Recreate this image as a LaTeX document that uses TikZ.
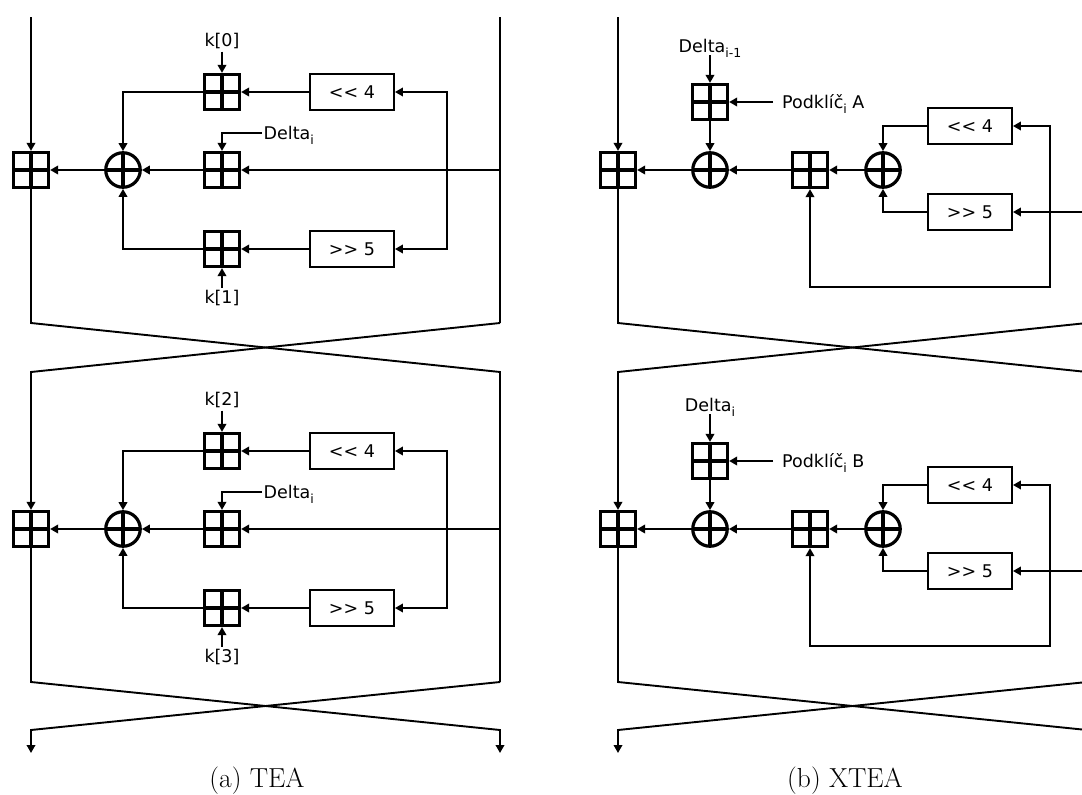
\documentclass[tikz,border=0pt]{standalone}
\usepackage{fontspec}
\newfontfamily\labelfont{DejaVu Sans}
\usetikzlibrary{arrows.meta}

% lowered, smaller index that does not change the height of a label
\newcommand\idx[1]{\smash{\raisebox{-4.5pt}{\fontsize{12.5}{12.5}\selectfont #1}}}

\tikzset{
  tip/.tip={Triangle[length=8pt,width=8.5pt]},
  wire/.style={line width=1.9pt},
  flow/.style={wire,-tip},
  crossmark/.style={path picture={
      \draw[line width=3.2pt]
        (path picture bounding box.north) -- (path picture bounding box.south)
        (path picture bounding box.west) -- (path picture bounding box.east);}},
  adder/.style={draw,line width=3.2pt,minimum size=35pt,inner sep=0pt,crossmark},
  xorop/.style={circle,draw,line width=3.2pt,minimum size=34.5pt,inner sep=0pt,crossmark},
  shiftop/.style={draw,line width=1.9pt,minimum width=84pt,minimum height=36pt,
    font=\labelfont\fontsize{17.5}{17.5}\selectfont},
  lbl/.style={font=\labelfont\fontsize{17.5}{17.5}\selectfont,inner sep=2.5pt},
  caption/.style={font=\fontsize{27.5}{27.5}\selectfont,inner sep=0pt},
}

% one TEA round: adders, shifts, xor and the key inputs
\newcommand\tearound[2]{%
  \node[adder] (la) at (31,170) {};
  \node[xorop] (xo) at (123,170) {};
  \node[adder] (ma) at (222,170) {};
  \node[adder] (ta) at (222,92) {};
  \node[adder] (ba) at (222,249) {};
  \node[shiftop] (sl) at (352,92) {<\kern0pt< 4};
  \node[shiftop] (sr) at (352,249) {>\kern0pt> 5};
  \node[lbl] (kt) at (222,41) {#1};
  \node[lbl] (kb) at (222,298) {#2};
  \node[lbl,anchor=west,inner xsep=1.5pt] (dl) at (262,133) {Delta\idx{i}};
  \coordinate (rt) at (500,170);
  \coordinate (ft) at (447,92);
  \coordinate (fb) at (447,249);
  \coordinate (tl) at (31,13);
  \coordinate (tr) at (500,13);
  \coordinate (bl) at (31,323);
  \coordinate (br) at (500,323);
  \draw[flow] (kt) -- (ta);
  \draw[flow] (kb) -- (ba);
  \draw[flow] (dl.west) -| (ma.north);
  \draw[flow] (rt) -- (ma);
  \draw[wire,tip-tip] (sl.east) -- (ft) -- (fb) -- (sr.east);
  \draw[flow] (sl) -- (ta);
  \draw[flow] (sr) -- (ba);
  \draw[flow] (ta.west) -| (xo.north);
  \draw[flow] (ba.west) -| (xo.south);
  \draw[flow] (ma) -- (xo);
  \draw[flow] (xo) -- (la);
}

% one XTEA round
\newcommand\xtearound[2]{%
  \node[adder] (la) at (618,170) {};
  \node[xorop] (xa) at (710,170) {};
  \node[adder] (ta) at (710,102) {};
  \node[adder] (ma) at (810,170) {};
  \node[xorop] (xb) at (883,170) {};
  \node[shiftop] (sl) at (970,126) {<\kern0pt< 4};
  \node[shiftop] (sr) at (970,212) {>\kern0pt> 5};
  \node[lbl] (dl) at (710,46) {#1};
  \node[lbl,anchor=west,inner xsep=0pt] (pk) at (782,102) {#2};
  \coordinate (pe) at (773,102);
  \coordinate (rt) at (1087,212);
  \coordinate (ft) at (1050,126);
  \coordinate (fb) at (1050,287);
  \coordinate (tl) at (618,13);
  \coordinate (tr) at (1087,13);
  \coordinate (bl) at (618,323);
  \coordinate (br) at (1087,323);
  \draw[flow] (dl) -- (ta);
  \draw[flow] (pe) -- (ta);
  \draw[flow] (ta) -- (xa);
  \draw[flow] (xa) -- (la);
  \draw[flow] (ma) -- (xa);
  \draw[flow] (xb) -- (ma);
  \draw[flow] (sl.west) -| (xb.north);
  \draw[flow] (sr.west) -| (xb.south);
  \draw[flow] (rt) -- (sr);
  \draw[wire,tip-tip] (sl.east) -- (ft) -- (fb) -| (ma.south);
}

\begin{document}
\begin{tikzpicture}[x=1pt,y=-1pt]
\useasboundingbox (0,0) rectangle (1082,795);
\clip (0,0) rectangle (1082,795);

% ---------------- TEA ----------------
\begin{scope}[name prefix=A1-]
  \tearound{k[0]}{k[1]}
\end{scope}
\begin{scope}[yshift=-359pt,name prefix=A2-]
  \tearound{k[2]}{k[3]}
\end{scope}
\coordinate (A-in-l) at (31,17);
\coordinate (A-in-r) at (500,17);
\coordinate (A-x-l) at (31,730);
\coordinate (A-x-r) at (500,730);
\coordinate (A-out-l) at (31,753);
\coordinate (A-out-r) at (500,753);
\draw[flow] (A-in-l) -- (A1-la);
\draw[wire] (A-in-r) -- (A1-br);
\draw[wire] (A1-la) -- (A1-bl) -- (A2-tr) -- (A2-br);
\draw[flow] (A1-br) -- (A2-tl) -- (A2-la);
\draw[flow] (A2-la) -- (A2-bl) -- (A-x-r) -- (A-out-r);
\draw[flow] (A2-br) -- (A-x-l) -- (A-out-l);
\node[caption] (capA) at (257,781) {(a) TEA};

% ---------------- XTEA ----------------
\begin{scope}[name prefix=B1-]
  \xtearound{Delta\idx{i-1}}{Podklíč\idx{i} A}
\end{scope}
\begin{scope}[yshift=-359pt,name prefix=B2-]
  \xtearound{Delta\idx{i}}{Podklíč\idx{i} B}
\end{scope}
\coordinate (B-in-l) at (618,17);
\coordinate (B-in-r) at (1087,17);
\coordinate (B-x-l) at (618,730);
\coordinate (B-x-r) at (1087,730);
\coordinate (B-out-l) at (618,753);
\coordinate (B-out-r) at (1087,753);
\draw[flow] (B-in-l) -- (B1-la);
\draw[wire] (B-in-r) -- (B1-br);
\draw[wire] (B1-la) -- (B1-bl) -- (B2-tr) -- (B2-br);
\draw[flow] (B1-br) -- (B2-tl) -- (B2-la);
\draw[flow] (B2-la) -- (B2-bl) -- (B-x-r) -- (B-out-r);
\draw[flow] (B2-br) -- (B-x-l) -- (B-out-l);
\node[caption] (capB) at (845,781) {(b) XTEA};
\end{tikzpicture}
\end{document}
